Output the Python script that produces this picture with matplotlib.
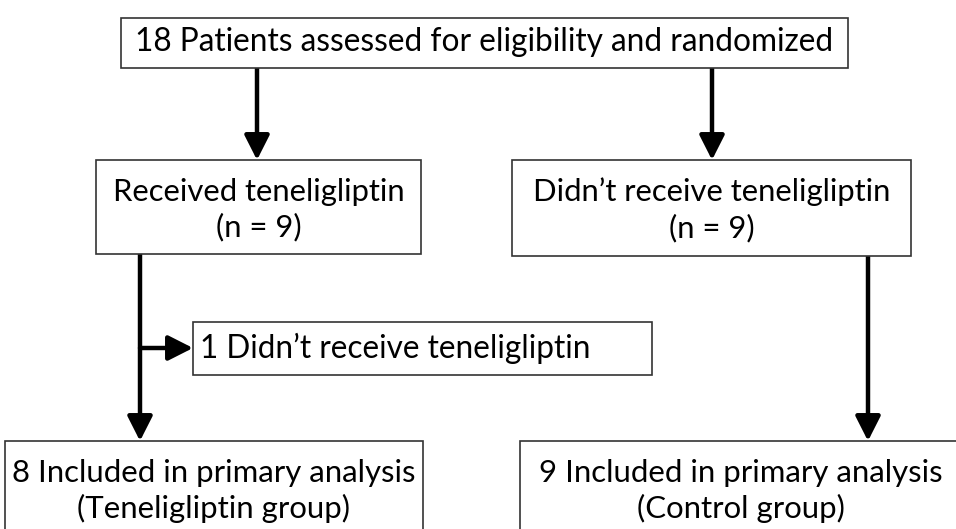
import matplotlib
matplotlib.use("Agg")
import matplotlib.pyplot as plt
from matplotlib.patches import Rectangle

# Flowchart texts (data)
enrolled_text = "18 Patients assessed for eligibility and randomized"
arm_labels = ["Received teneligliptin\n(n = 9)", "Didn\u2019t receive teneligliptin\n(n = 9)"]
excluded_text = "1 Didn\u2019t receive teneligliptin"
analysis_labels = ["8 Included in primary analysis\n(Teneligliptin group)",
                   "9 Included in primary analysis\n(Control group)"]

W, H = 956, 529
fig = plt.figure(figsize=(W / 100, H / 100), dpi=100)
ax = fig.add_axes([0, 0, 1, 1])
ax.set_xlim(0, W)
ax.set_ylim(H, 0)
ax.axis("off")

FONT = "Lato"
EDGE = "#333333"


def box(x0, y0, x1, y1, text, tx=None, ty=None, ha="center", fs=22.7, ls=1.3):
    ax.add_patch(Rectangle((x0, y0), x1 - x0, y1 - y0, fill=True, facecolor="white",
                           edgecolor=EDGE, lw=1.2, zorder=2))
    if tx is None:
        tx = (x0 + x1) / 2
    if ty is None:
        ty = (y0 + y1) / 2
    ax.text(tx, ty, text, ha=ha, va="center", fontsize=fs, family=FONT,
            linespacing=ls, zorder=3, color="black")


def arrow(x0, y0, x1, y1):
    ax.annotate("", xy=(x1, y1), xytext=(x0, y0),
                arrowprops=dict(arrowstyle="-|>,head_length=0.75,head_width=0.38",
                                color="black", lw=3.2, shrinkA=0, shrinkB=0,
                                mutation_scale=20),
                zorder=1)


# Boxes
box(121, 18, 848, 68, enrolled_text, ty=42, fs=22.8)
box(96, 160, 421, 254, arm_labels[0], ty=210, fs=22.3, ls=1.3)
box(512, 160, 911, 256, arm_labels[1], ty=210, fs=22.3, ls=1.3)
box(193, 322, 652, 375, excluded_text, tx=200, ty=348, ha="left", fs=22.7)
box(5, 441, 423, 560, analysis_labels[0], ty=491, fs=22.4, ls=1.25)
box(520, 441, 990, 560, analysis_labels[1], tx=741, ty=491, fs=22.4, ls=1.25)

# Connectors
arrow(257, 68, 257, 160)
arrow(712, 68, 712, 160)
arrow(140, 254, 140, 441)
arrow(140, 348, 193, 348)
arrow(868, 256, 868, 441)

fig.savefig("out.png", dpi=100, facecolor="white")
